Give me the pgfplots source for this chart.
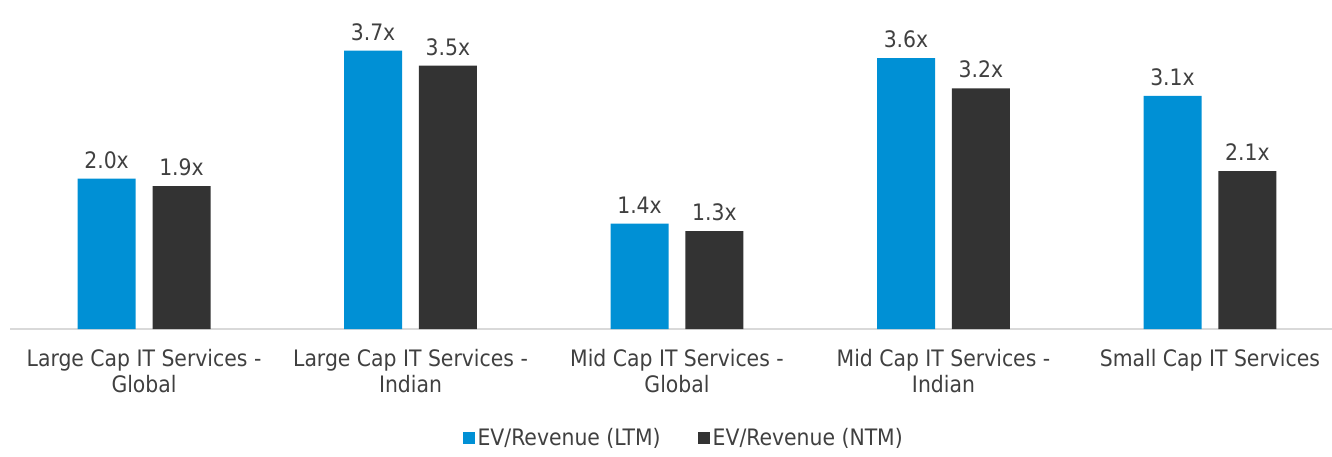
\documentclass[border=0pt]{standalone}
\usepackage{fontspec}
\setmainfont{DejaVu Sans Condensed}
\usepackage{pgfplots}
\pgfplotsset{compat=1.18}
\definecolor{ltm}{RGB}{0,144,213}
\definecolor{ntm}{RGB}{51,51,51}
\definecolor{txt}{RGB}{64,64,64}
\definecolor{axl}{RGB}{217,217,217}
\begin{document}
\begin{tikzpicture}[x=1pt,y=1pt]
\path[use as bounding box] (0,0) rectangle (999,342.75);
\begin{axis}[
  at={(7.5pt,96pt)}, anchor=south west,
  scale only axis, width=991.5pt, height=246pt,
  xmin=-0.503, xmax=4.458, ymin=0, ymax=4.36,
  axis x line*=bottom, axis y line=none,
  x axis line style={axl, line width=1.2pt, -},
  ybar, bar width=43.5pt, 
  xtick=data, major tick length=0pt,
  xticklabels={{Large Cap IT Services -\\Global},{Large Cap IT Services -\\Indian},{Mid Cap IT Services -\\Global},{Mid Cap IT Services -\\Indian},{Small Cap IT Services}},
  xticklabel style={align=center, font=\fontsize{17}{19.5}\selectfont, text=txt, anchor=north, yshift=-12pt},
  nodes near coords={\pgfmathprintnumber[fixed,fixed zerofill,precision=1]{\pgfplotspointmeta}x},
  nodes near coords style={font=\fontsize{17}{19}\selectfont, text=txt, yshift=4pt},
  /pgf/number format/assume math mode=true,
  clip=false,
  legend style={at={(0.51,-0.285)}, anchor=north, draw=none, fill=none, legend columns=2,
    font=\fontsize{17}{19}\selectfont, text=txt,
    /tikz/every even column/.append style={column sep=26pt}},
  legend image code/.code={\fill[#1] (1pt,-4.5pt) rectangle (10pt,4.5pt);},
]
\addplot[fill=ltm, draw=none, bar shift=-28.1pt] coordinates {(0,2.0) (1,3.7) (2,1.4) (3,3.6) (4,3.1)};
\addplot[fill=ntm, draw=none, bar shift=28.1pt] coordinates {(0,1.9) (1,3.5) (2,1.3) (3,3.2) (4,2.1)};
\legend{EV/Revenue (LTM),EV/Revenue (NTM)}
\end{axis}
\end{tikzpicture}
\end{document}
